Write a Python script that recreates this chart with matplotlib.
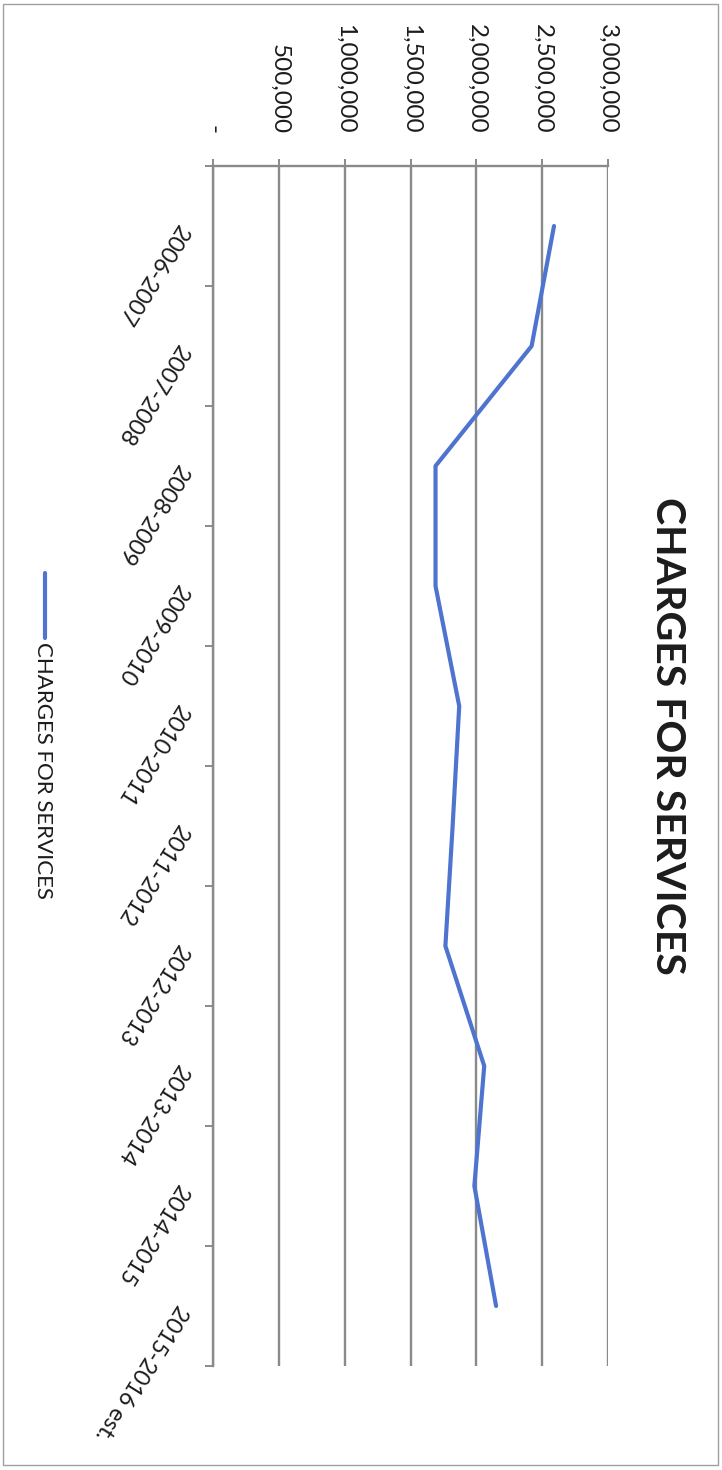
import matplotlib.pyplot as plt
from matplotlib.lines import Line2D
from matplotlib.patches import Rectangle

# Fiscal years and charges for services (dollars)
years = ['2006-2007', '2007-2008', '2008-2009', '2009-2010', '2010-2011',
         '2011-2012', '2012-2013', '2013-2014', '2014-2015', '2015-2016 est.']
charges = [2590000, 2420000, 1690000, 1690000, 1870000,
           1820000, 1765000, 2060000, 1985000, 2150000]

value_ticks = [0, 500000, 1000000, 1500000, 2000000, 2500000, 3000000]
value_labels = ['-', '500,000', '1,000,000', '1,500,000', '2,000,000', '2,500,000', '3,000,000']

series_name = 'CHARGES FOR SERVICES'
line_color = '#4F74CF'
grid_color = '#8a8a8a'
text_color = '#1c1c1c'

plt.rcParams['font.family'] = ['Lato', 'DejaVu Sans']

W, H = 722, 1470
fig = plt.figure(figsize=(W / 100, H / 100), dpi=100)

# chart is laid out sideways: values run left->right, years run top->bottom
ax = fig.add_axes([213 / W, 1 - 1366 / H, 395 / W, 1200 / H])
pos = list(range(len(years)))
line, = ax.plot(charges, pos, color=line_color, lw=3.0, solid_capstyle='round',
                label=series_name, zorder=3)

ax.set_xlim(value_ticks[0], value_ticks[-1])
ax.set_ylim(len(years) - 0.5, -0.5)

# value axis on top, labels reading downward
ax.xaxis.tick_top()
ax.set_xticks(value_ticks)
ax.set_xticklabels(value_labels, rotation=-90, fontsize=17.5, color=text_color)
ax.tick_params(axis='x', length=5, width=1.4, color=grid_color, pad=18)
ax.grid(axis='x', color=grid_color, lw=1.7)
ax.set_axisbelow(True)

# category axis on the left, tick marks between the years
ax.set_yticks(pos)
ax.set_yticklabels(years, fontsize=16.5, color=text_color, rotation=-122,
                   rotation_mode='anchor', ha='left', va='center')
ax.set_yticks([p - 0.5 for p in pos] + [pos[-1] + 0.5], minor=True)
ax.tick_params(axis='y', which='major', length=0, pad=22)
ax.tick_params(axis='y', which='minor', length=6, width=1.4, color=grid_color)

for side in ['right', 'bottom']:
    ax.spines[side].set_visible(False)
for side in ['top', 'left']:
    ax.spines[side].set_color(grid_color)
    ax.spines[side].set_linewidth(1.7)

# title and legend, rotated with the chart
fig.text(667 / W, 1 - 736 / H, series_name, rotation=-90, ha='center', va='center',
         fontsize=29.5, fontweight='bold', color=text_color)
fig.add_artist(Line2D([45 / W, 45 / W], [1 - 573 / H, 1 - 638 / H],
                      color=line.get_color(), lw=line.get_linewidth(),
                      solid_capstyle='round', transform=fig.transFigure))
fig.text(43 / W, 1 - 642 / H, line.get_label(), rotation=-90, ha='center', va='top',
         fontsize=16, color=text_color)

# outer chart border
fig.add_artist(Rectangle((3 / W, 5 / H), 715 / W, 1461 / H, fill=False,
                         edgecolor='#a0a0a0', lw=1.0, transform=fig.transFigure))

fig.savefig('out.png', dpi=100)
